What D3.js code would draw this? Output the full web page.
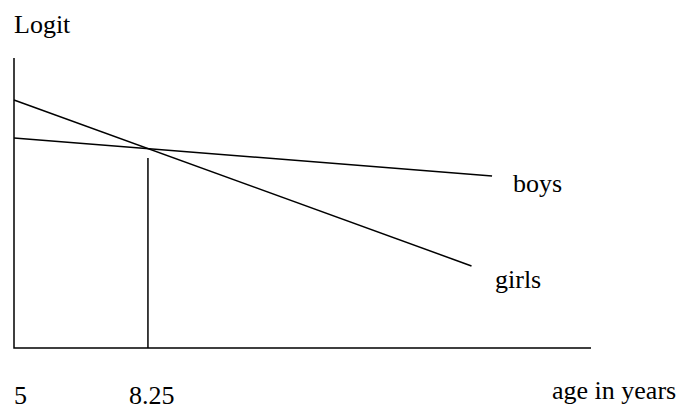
<!DOCTYPE html>
<html>
<head>
<meta charset="utf-8">
<script src="https://cdn.jsdelivr.net/npm/d3@7"></script>
<style>
  body { margin: 0; background: #fff; }
  text { font-family: "Liberation Serif", "Times New Roman", serif; font-size: 26px; fill: #000; }
</style>
</head>
<body>
<div id="chart"></div>
<script>
// ages (years) and logit values
const ageRange = [5, 19];
const logitRange = [0, 10];
const boysAge = [5, 16.6];
const boysLogit = [7.24, 5.93];
const girlsAge = [5, 16.1];
const girlsLogit = [8.55, 2.83];
const crossAge = 8.25;
const crossTop = 6.55;
const tickLabels = ["5", "8.25"];
const tickAges = [5, 8.25];

const width = 681, height = 410;
const svg = d3.select("#chart").append("svg")
    .attr("width", width)
    .attr("height", height);

const x = d3.scaleLinear().domain(ageRange).range([14, 591]);
const y = d3.scaleLinear().domain(logitRange).range([348, 58]);

const line = d3.line()
    .x(d => x(d[0]))
    .y(d => y(d[1]));

// axes
svg.append("path")
    .attr("d", line([[ageRange[0], logitRange[1]], [ageRange[0], logitRange[0]], [ageRange[1], logitRange[0]]]))
    .attr("fill", "none")
    .attr("stroke", "#000")
    .attr("stroke-width", 1.5);

// series
const series = [
  { name: "boys", age: boysAge, logit: boysLogit, lx: 513, ly: 192 },
  { name: "girls", age: girlsAge, logit: girlsLogit, lx: 495, ly: 288 }
];
series.forEach(s => {
  svg.append("path")
      .attr("d", line(d3.zip(s.age, s.logit)))
      .attr("fill", "none")
      .attr("stroke", "#000")
      .attr("stroke-width", 1.5);
  svg.append("text")
      .attr("x", s.lx)
      .attr("y", s.ly)
      .text(s.name);
});

// drop line at the crossing
svg.append("path")
    .attr("d", line([[crossAge, crossTop], [crossAge, 0]]))
    .attr("stroke", "#000")
    .attr("stroke-width", 1.5);

// labels
svg.append("text").attr("x", 14).attr("y", 33).text("Logit");
svg.append("text").attr("x", 552).attr("y", 399).text("age in years");
svg.selectAll(".tick-label")
  .data(tickAges)
  .join("text")
    .attr("class", "tick-label")
    .attr("x", (d, i) => x(d) - (i === 0 ? 0 : 19))
    .attr("y", 404)
    .text((d, i) => tickLabels[i]);
</script>
</body>
</html>
